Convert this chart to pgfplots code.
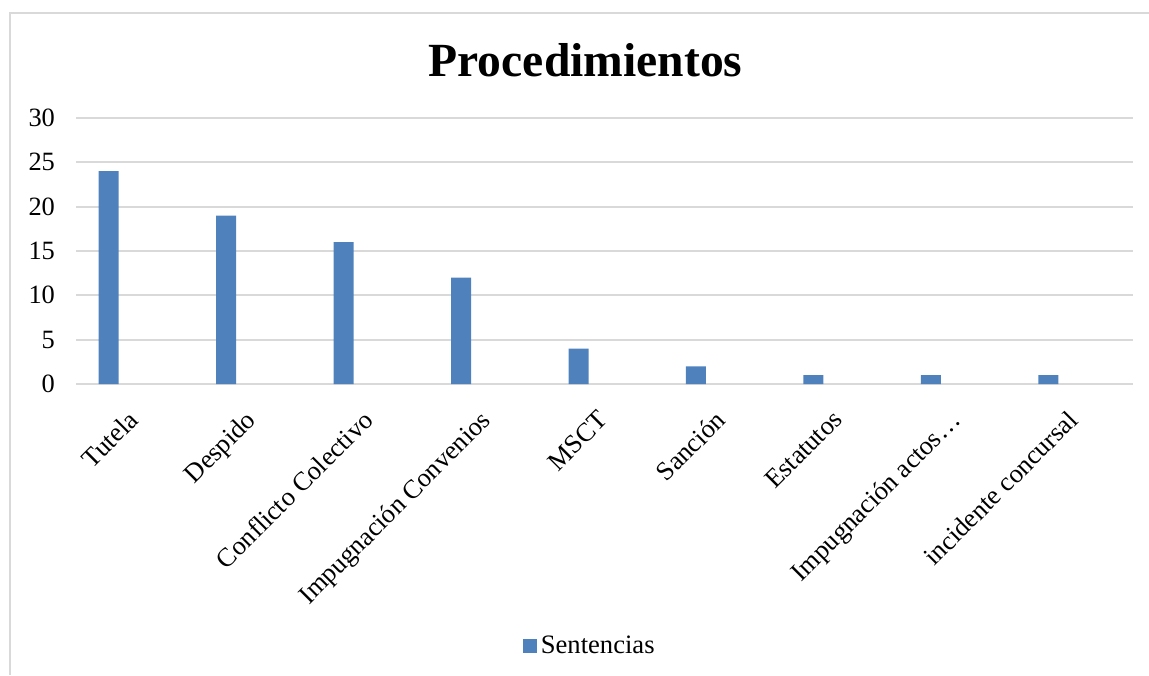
\documentclass[border=0pt]{standalone}
\usepackage{fontspec}
\setmainfont{Liberation Serif}
\usepackage{pgfplots}
\pgfplotsset{compat=1.18}
\definecolor{barblue}{HTML}{4F81BD}
\definecolor{gridgray}{HTML}{D9D9D9}
\begin{document}
\begin{tikzpicture}
\useasboundingbox (0pt,0pt) rectangle (574.5pt,337.5pt);
\draw[gridgray, line width=1pt] (5pt,0pt) -- (5pt,331pt) -- (574.5pt,331pt);
\node[font=\bfseries\fontsize{23.8}{28}\selectfont, anchor=base] at (292.75pt,299pt) {Procedimientos};
\begin{axis}[
  at={(38pt,145.5pt)}, anchor=south west,
  width=528.5pt, height=133pt, scale only axis,
  ymin=0, ymax=30, ytick={0,5,...,30},
  xmin=-0.5, xmax=8.5, xtick={0,...,8},
  xticklabels={Tutela,Despido,Conflicto Colectivo,Impugnación Convenios,MSCT,Sanción,Estatutos,Impugnación actos…,incidente concursal},
  ymajorgrids, grid style={gridgray, line width=1pt},
  axis line style={draw=none}, major tick length=0pt,
  /pgf/number format/assume math mode=true,
  ticklabel style={font=\fontsize{13.2}{15}\selectfont},
  yticklabel style={anchor=east, xshift=-7pt},
  xticklabel style={xshift=-4pt, yshift=-12.3pt, rotate=45, anchor=north east, inner sep=0pt},
  legend style={at={(0.487,-0.985)}, anchor=center, draw=none, fill=none,
     font=\fontsize{13.3}{15}\selectfont, inner sep=0pt},
  legend image code/.code={\fill[barblue] (0pt,-3.5pt) rectangle (7pt,3.5pt);},
]
\addplot[ybar, bar width=10pt, bar shift=-13pt, fill=barblue, draw=none]
  coordinates {(0,24) (1,19) (2,16) (3,12) (4,4) (5,2) (6,1) (7,1) (8,1)};
\addlegendentry{Sentencias}
\end{axis}
\end{tikzpicture}
\end{document}
